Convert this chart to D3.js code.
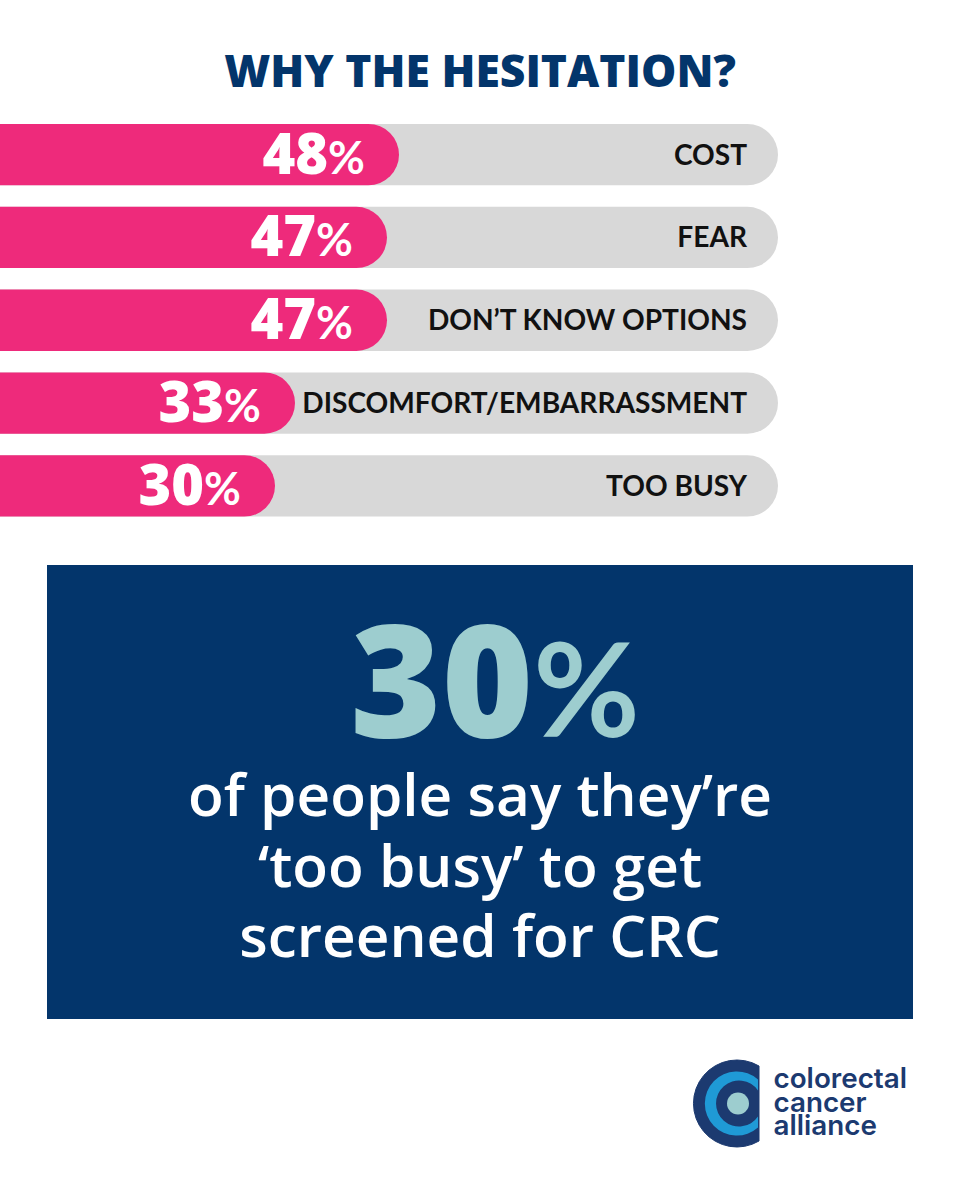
<!DOCTYPE html>
<html><head><meta charset="utf-8">
<script src="https://cdn.jsdelivr.net/npm/d3@7/dist/d3.min.js"></script>
<style>html,body{margin:0;padding:0;background:#fff}svg{display:block}</style>
</head><body><div id="c"></div>
<script>
const categories = ["COST","FEAR","DON’T KNOW OPTIONS","DISCOMFORT/EMBARRASSMENT","TOO BUSY"];
const values = [48,47,47,33,30];
const title = "WHY THE HESITATION?";
const calloutValue = "30%";
const calloutLines = ["of people say they’re","‘too busy’ to get","screened for CRC"];
const logoLines = ["colorectal","cancer","alliance"];

const W=960,H=1200;
const heavy="'Open Sans',sans-serif";
const svg=d3.select("#c").append("svg").attr("width",W).attr("height",H).attr("viewBox",`0 0 ${W} ${H}`);
svg.append("rect").attr("width",W).attr("height",H).attr("fill","#fff");

svg.append("text").attr("x",480).attr("y",87).attr("text-anchor","middle")
  .attr("font-family",heavy).attr("font-weight",800).attr("font-size",44.4).attr("fill","#03356b").text(title);

const y=d3.scaleBand().domain(categories).range([124,516.5]).paddingInner(0.26).paddingOuter(0);
// the picture's bar lengths are not strictly proportional; scale follows the drawn ends
const x=d3.scaleLinear().domain([30,33,47,48]).range([275,295,387,399]);
const trackEnd=778;
const pill=(w,h)=>{const r=h/2;return `M0,0H${w-r}A${r},${r} 0 0 1 ${w-r},${h}H0Z`;};

const row=svg.append("g").selectAll("g").data(categories.map((c,i)=>({c,v:values[i]}))).join("g")
  .attr("transform",d=>`translate(0,${y(d.c)})`);
row.append("path").attr("d",pill(trackEnd,y.bandwidth())).attr("fill","#d8d8d8");
row.append("path").attr("d",d=>pill(x(d.v),y.bandwidth())).attr("fill","#ee2a7b");
row.append("text").attr("x",747).attr("y",y.bandwidth()/2+10).attr("text-anchor","end")
  .attr("font-family","Lato,sans-serif").attr("font-weight",700).attr("font-size",28.1).attr("fill","#111").text(d=>d.c);
const pct=row.append("text").attr("x",d=>x(d.v)-34).attr("y",y.bandwidth()/2+19).attr("text-anchor","end")
  .attr("font-family",heavy).attr("font-weight",800).attr("fill","#fff").attr("font-size",56);
pct.append("tspan").text(d=>d.v);
pct.append("tspan").attr("font-family","Lato,sans-serif").attr("font-size",45).attr("font-weight",700).text("%");

svg.append("rect").attr("x",47).attr("y",565).attr("width",866).attr("height",454).attr("fill","#03356b");
const big=svg.append("text").attr("x",495).attr("y",737).attr("text-anchor","middle")
  .attr("font-family",heavy).attr("font-weight",800).attr("fill","#9dcdcf").attr("font-size",156);
big.append("tspan").text(calloutValue.replace("%",""));
big.append("tspan").attr("font-family","Lato,sans-serif").attr("font-size",130).attr("font-weight",700).text("%");
svg.append("g").selectAll("text").data(calloutLines).join("text")
  .attr("x",480).attr("y",(d,i)=>816+i*70.5).attr("text-anchor","middle")
  .attr("font-family",heavy).attr("font-weight",600).attr("font-size",58.5).attr("fill","#fff").text(d=>d);

// logo
const logo=svg.append("g").attr("transform","translate(737,1103.5)");
logo.append("path").attr("d","M22,-37.5A43.5,43.5 0 1 0 22,37.5Z").attr("fill","#1c3a70").attr("stroke","#1c3a70").attr("stroke-width",1).attr("stroke-linejoin","round");
logo.append("path").attr("d","M21,-24A32,32 0 1 0 21,24V13A23,23 0 1 1 21,-13Z").attr("fill","#1f9ad6");
logo.append("circle").attr("cx",1).attr("r",11).attr("fill","#9dcdcf");
svg.append("g").selectAll("text").data(logoLines).join("text")
  .attr("x",773.5).attr("y",(d,i)=>1088+i*23.5).attr("font-family","Inter,sans-serif").attr("font-weight",600)
  .attr("font-size",27.8).attr("fill","#1c3a70").text(d=>d);
</script></body></html>
